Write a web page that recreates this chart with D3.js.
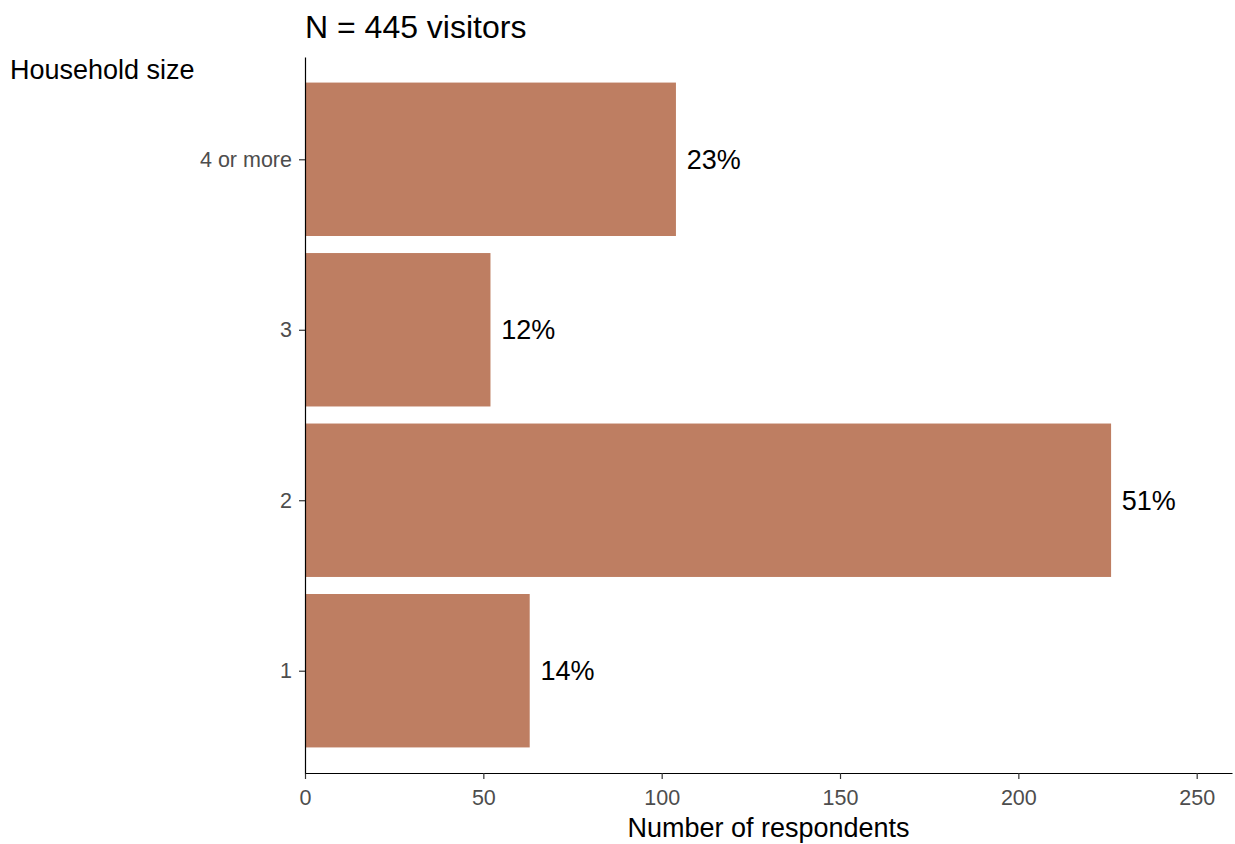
<!DOCTYPE html>
<html>
<head>
<meta charset="utf-8">
<script src="https://cdn.jsdelivr.net/npm/d3@7"></script>
<style>
  html, body { margin: 0; padding: 0; background: #fff; }
  svg { display: block; font-family: "Liberation Sans", Arial, sans-serif; }
</style>
</head>
<body>
<svg id="chart" width="1235" height="844"></svg>
<script>
const categories = ["1", "2", "3", "4 or more"];
const counts = [63, 226, 52, 104];
const percentLabels = ["14%", "51%", "12%", "23%"];
const xTicks = [0, 50, 100, 150, 200, 250];
const titleText = "N = 445 visitors";
const yTitleText = "Household size";
const xTitleText = "Number of respondents";

const svg = d3.select("#chart");
const mLeft = 305, mRight = 1232, mTop = 57, mBottom = 773;
const barColor = "#BE7E62";

const x = d3.scaleLinear().domain([0, d3.max(counts) * 1.15]).range([mLeft, mRight]);
// discrete positions 1..n with ggplot-style 0.6 expansion
const y = d3.scaleLinear().domain([0.4, categories.length + 0.6]).range([mBottom, mTop]);
const pos = (i) => i + 1;
const barH = Math.abs(y(0.45) - y(-0.45));

svg.append("g").selectAll("rect").data(counts).join("rect")
  .attr("x", x(0))
  .attr("y", (d, i) => y(pos(i)) - barH / 2)
  .attr("width", d => x(d) - x(0))
  .attr("height", barH)
  .attr("fill", barColor);

svg.append("g").selectAll("text").data(counts).join("text")
  .attr("x", d => x(d + 3))
  .attr("y", (d, i) => y(pos(i)))
  .attr("dy", "0.36em")
  .attr("font-size", 27)
  .attr("fill", "#000")
  .text((d, i) => percentLabels[i]);

// x axis
const xAxis = svg.append("g").attr("transform", `translate(0,${mBottom})`)
  .call(d3.axisBottom(x).tickValues(xTicks).tickSize(6).tickPadding(11).tickSizeOuter(0));
xAxis.select(".domain").attr("stroke", "#000").attr("stroke-width", 1.2);
xAxis.selectAll(".tick line").attr("stroke", "#333").attr("stroke-width", 1.2);
xAxis.selectAll(".tick text").attr("font-size", 21.5).attr("fill", "#4D4D4D")
  .attr("font-family", "Liberation Sans, Arial, sans-serif");

// y axis
const yAxis = svg.append("g").attr("transform", `translate(${mLeft},0)`)
  .call(d3.axisLeft(y).tickValues(categories.map((c, i) => pos(i)))
    .tickFormat((d) => categories[d - 1]).tickSize(6).tickPadding(7).tickSizeOuter(0));
yAxis.select(".domain").attr("stroke", "#000").attr("stroke-width", 1.2);
yAxis.selectAll(".tick line").attr("stroke", "#333").attr("stroke-width", 1.2);
yAxis.selectAll(".tick text").attr("font-size", 21.5).attr("fill", "#4D4D4D")
  .attr("font-family", "Liberation Sans, Arial, sans-serif");

svg.append("text").attr("x", mLeft).attr("y", 38)
  .attr("font-size", 32).attr("fill", "#000").text(titleText);
svg.append("text").attr("x", 10).attr("y", 79)
  .attr("font-size", 27).attr("fill", "#000").text(yTitleText);
svg.append("text").attr("x", (mLeft + mRight) / 2).attr("y", 837)
  .attr("text-anchor", "middle")
  .attr("font-size", 27).attr("fill", "#000").text(xTitleText);
</script>
</body>
</html>
